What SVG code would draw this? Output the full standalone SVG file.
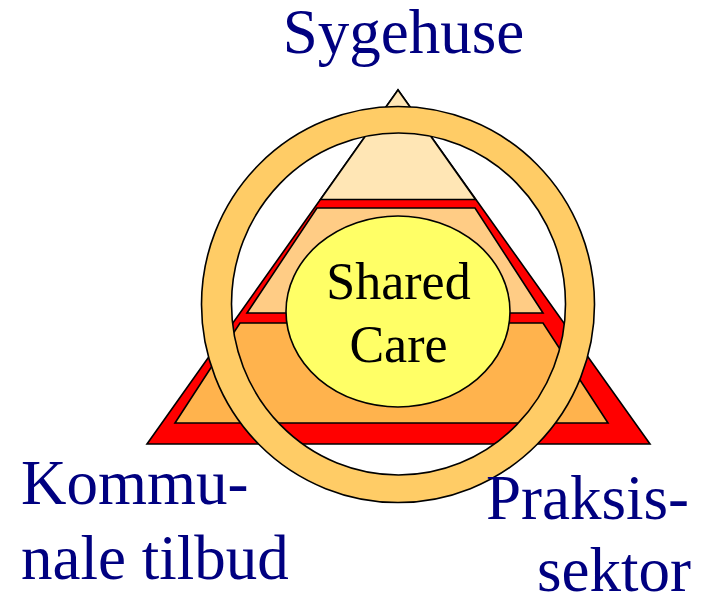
<svg xmlns="http://www.w3.org/2000/svg" width="712" height="596" viewBox="0 0 712 596">
  <style>
    .edge { stroke: #000; stroke-width: 1.6; stroke-linejoin: miter; }
    .lbl { font-family: "Liberation Serif", "Times New Roman", serif; fill: #000080; font-size: 63px; }
    .inner { font-family: "Liberation Serif", "Times New Roman", serif; fill: #000; font-size: 52px; text-anchor: middle; }
  </style>
  <rect width="712" height="596" fill="#fff"/>
  <g id="pyramid">
    <polygon class="edge" points="398,90 147,444 650,444" fill="#FF0000"/>
    <polygon class="edge" points="398,90 475.5,199.5 320.5,199.5" fill="#FFE6B5"/>
    <polygon class="edge" points="317,208 475,208 543,313 247,313" fill="#FFCC85"/>
    <polygon class="edge" points="240,323 543,323 608,423 175,423" fill="#FFB34D"/>
  </g>
  <g id="ring">
    <path class="edge" fill="#FFCC66" fill-rule="evenodd" d="M201.5,304.5 a196.5,198 0 1,0 393,0 a196.5,198 0 1,0 -393,0 Z M231.5,304 a167,171 0 1,0 334,0 a167,171 0 1,0 -334,0 Z"/>
  </g>
  <g id="shared-care">
    <ellipse class="edge" cx="398" cy="311.5" rx="112" ry="95.5" fill="#FFFF66"/>
    <text class="inner" x="398.5" y="299">Shared</text>
    <text class="inner" x="398.5" y="361.5">Care</text>
  </g>
  <g id="sygehuse">
    <text class="lbl" x="403.5" y="53" text-anchor="middle">Sygehuse</text>
  </g>
  <g id="kommunale">
    <text class="lbl" x="21" y="503.5">Kommu-</text>
    <text class="lbl" x="21" y="578.5">nale tilbud</text>
  </g>
  <g id="praksissektor">
    <text class="lbl" x="486" y="518.5">Praksis-</text>
    <text class="lbl" x="537" y="590.5">sektor</text>
  </g>
  <g id="connectors"></g>
</svg>
